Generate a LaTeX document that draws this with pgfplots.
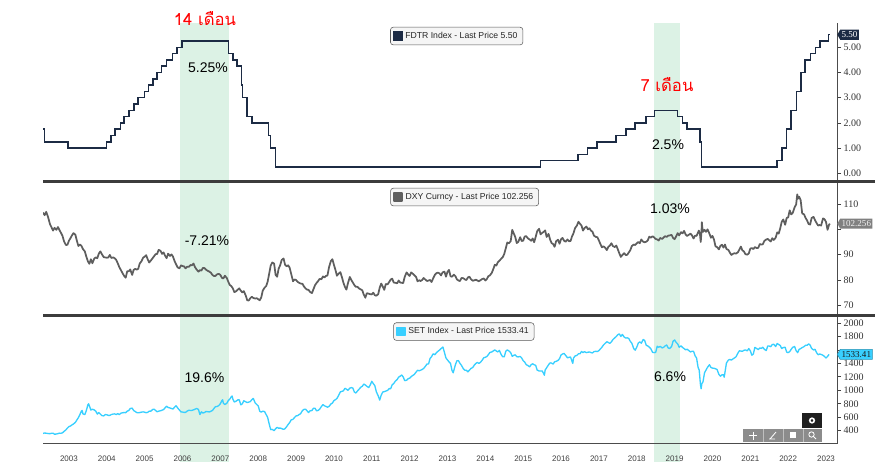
\documentclass[border=0pt]{standalone}
\usepackage{fontspec}
\setmainfont{Liberation Sans}
\newfontfamily\tickfont{Liberation Serif}
\newfontfamily\thaifont[Script=Thai]{Loma}
\usepackage{pgfplots}
\pgfplotsset{compat=1.18}
\usetikzlibrary{shapes.symbols}

\definecolor{fdtr}{HTML}{1C2B44}
\definecolor{dxy}{HTML}{5E5E5E}
\definecolor{setc}{HTML}{38CFFF}
\definecolor{band}{HTML}{DCF2E5}
\definecolor{sep}{HTML}{3C3C3C}

\pgfplotsset{
  panel/.style={
    scale only axis, width=595.5pt,
    xmin=2002.815, xmax=2023.79,
    axis y line*=right,
    tick align=outside, major tick length=3pt,
    axis line style={black!70, line width=0.6pt},
    ytick style={black!75, line width=0.6pt},
    /pgf/number format/assume math mode=true,
    yticklabel style={font=\tickfont\fontsize{7.5}{8}\selectfont, text=black!80, xshift=-1.5pt},
    scaled y ticks=false,
    legend style={anchor=center, draw=black!65, fill=black!4, rounded corners=2pt,
      font=\fontsize{6.5}{7.5}\selectfont, text=black!85, inner xsep=2pt, inner ysep=1.5pt},
  },
}
\tikzset{
  lasttag/.style={signal, signal to=west, signal pointer angle=120,
    font=\tickfont\fontsize{6.8}{7.5}\selectfont, inner xsep=1pt, inner ysep=1.5pt, anchor=west},
}

\begin{document}
\begin{tikzpicture}
\path[use as bounding box] (0pt,0pt) rectangle (656.25pt,-346.5pt);

% shaded hold periods (Jun 2006 - Sep 2007, Dec 2018 - Jul 2019), behind the panels
\begin{scope}[x=0.75pt, y=-0.75pt]
\fill[band] (180,23) rectangle (229,462);
\fill[band] (654.3,23) rectangle (679.7,462);
\end{scope}

% ---------- FDTR ----------
\begin{axis}[panel, at={(32.25pt,-17.25pt)}, anchor=north west,
  height=117.75pt, ymin=-0.266, ymax=5.964,
  hide x axis,
  ytick={0,1,2,3,4,5},
  yticklabel style={/pgf/number format/fixed, /pgf/number format/fixed zerofill, /pgf/number format/precision=2},
  legend style={at={(0.521,0.917)}},
]
\addplot[const plot, fdtr, line width=1.1pt,
  legend image code/.code={\fill[fdtr, sharp corners] (0pt,-3pt) rectangle (6pt,3pt);}]
  coordinates {(2002.815,1.75)(2002.85,1.25)(2003.48,1.00)(2004.49,1.25)(2004.61,1.50)(2004.72,1.75)(2004.86,2.00)(2004.95,2.25)(2005.09,2.50)(2005.22,2.75)(2005.33,3.00)(2005.49,3.25)(2005.60,3.50)(2005.72,3.75)(2005.83,4.00)(2005.95,4.25)(2006.08,4.50)(2006.24,4.75)(2006.36,5.00)(2006.49,5.25)(2007.71,4.75)(2007.83,4.50)(2007.94,4.25)(2008.06,3.50)(2008.08,3.00)(2008.21,2.25)(2008.33,2.00)(2008.77,1.50)(2008.82,1.00)(2008.96,0.25)(2015.96,0.50)(2016.95,0.75)(2017.20,1.00)(2017.45,1.25)(2017.95,1.50)(2018.22,1.75)(2018.45,2.00)(2018.74,2.25)(2018.97,2.50)(2019.58,2.25)(2019.71,2.00)(2019.83,1.75)(2020.17,1.25)(2020.21,0.25)(2022.21,0.50)(2022.34,1.00)(2022.46,1.75)(2022.57,2.50)(2022.72,3.25)(2022.84,4.00)(2022.95,4.50)(2023.09,4.75)(2023.22,5.00)(2023.34,5.25)(2023.57,5.50)(2023.60,5.50)};
\addlegendentry{FDTR Index - Last Price 5.50}
\coordinate (fdtrend) at (2023.79,5.50);
\end{axis}

% ---------- DXY ----------
\begin{axis}[panel, at={(32.25pt,-137.25pt)}, anchor=north west,
  height=98.25pt, ymin=66.57, ymax=118.29,
  hide x axis,
  ytick={70,80,90,100,110},
  yticklabels={70,80,90,,110},
  legend style={at={(0.531,0.893)}},
]
\addplot[dxy, line width=1.3pt, line join=round,
  legend image code/.code={\fill[dxy, sharp corners] (0pt,-3pt) rectangle (6pt,3pt);}]
  coordinates {(2002.815,106.6)(2002.86,105.6)(2002.90,106.9)(2002.95,104.8)(2003.00,102.0)
  (2003.04,100.8)(2003.08,99.5)(2003.12,100.6)(2003.17,99.8)(2003.21,100.9)(2003.25,99.7)(2003.29,98.6)(2003.33,97.4)(2003.37,95.3)(2003.42,93.8)(2003.46,93.9)(2003.50,95.5)(2003.54,96.5)(2003.58,97.6)(2003.62,98.5)(2003.67,97.9)(2003.71,95.5)(2003.75,93.4)(2003.79,94.0)(2003.83,93.5)(2003.87,92.2)(2003.92,91.3)(2003.96,89.2)(2004.00,87.4)
  (2004.04,86.4)(2004.08,88.2)(2004.12,86.6)(2004.17,88.5)(2004.21,88.9)(2004.25,88.6)(2004.29,90.4)(2004.33,91.3)(2004.37,90.2)(2004.42,89.0)(2004.46,88.9)(2004.50,88.8)(2004.54,88.9)(2004.58,89.9)(2004.62,88.7)(2004.67,88.9)(2004.71,88.6)(2004.75,87.9)(2004.79,86.6)(2004.83,85.1)(2004.87,84.0)(2004.92,82.6)(2004.96,81.6)(2005.00,80.9)
  (2005.04,83.5)(2005.08,83.4)(2005.12,84.2)(2005.17,82.0)(2005.21,84.0)(2005.25,84.4)(2005.29,84.1)(2005.33,84.4)(2005.37,86.5)(2005.42,87.5)(2005.46,88.8)(2005.50,89.2)(2005.54,89.8)(2005.58,88.2)(2005.62,86.9)(2005.67,87.8)(2005.71,88.6)(2005.75,89.4)(2005.79,90.2)(2005.83,90.3)(2005.87,91.9)(2005.92,91.5)(2005.96,90.3)(2006.00,90.9)
  (2006.04,89.6)(2006.08,88.6)(2006.12,90.4)(2006.17,89.5)(2006.21,90.1)(2006.25,89.2)(2006.29,87.5)(2006.33,86.2)(2006.37,85.0)(2006.42,84.6)(2006.46,85.8)(2006.50,85.5)(2006.54,85.4)(2006.58,84.6)(2006.62,85.2)(2006.67,85.2)(2006.71,85.9)(2006.75,85.8)(2006.79,86.5)(2006.83,85.1)(2006.87,84.2)(2006.92,83.3)(2006.96,83.9)(2007.00,83.7)
  (2007.04,84.8)(2007.08,84.7)(2007.12,84.1)(2007.17,83.6)(2007.21,83.3)(2007.25,82.9)(2007.29,82.0)(2007.33,81.6)(2007.37,81.6)(2007.42,82.3)(2007.46,82.4)(2007.50,82.0)(2007.54,80.9)(2007.58,80.6)(2007.62,81.7)(2007.67,80.8)(2007.71,79.3)(2007.75,78.0)(2007.79,77.6)(2007.83,76.7)(2007.87,75.2)(2007.92,75.6)(2007.96,76.2)(2008.00,76.7)
  (2008.04,75.8)(2008.08,75.1)(2008.12,75.6)(2008.17,73.9)(2008.21,72.0)(2008.25,71.9)(2008.29,72.8)(2008.33,73.4)(2008.37,72.9)(2008.42,72.7)(2008.46,72.8)(2008.50,72.4)(2008.54,72.0)(2008.58,73.1)(2008.62,75.8)(2008.67,77.0)(2008.71,77.6)(2008.75,79.4)(2008.79,82.5)(2008.83,85.7)(2008.87,86.9)(2008.92,86.5)(2008.96,82.0)(2009.00,81.3)
  (2009.04,84.5)(2009.08,85.8)(2009.12,87.9)(2009.17,88.5)(2009.21,86.0)(2009.25,85.4)(2009.29,85.8)(2009.33,84.9)(2009.37,82.5)(2009.42,79.5)(2009.46,80.2)(2009.50,80.0)(2009.54,79.3)(2009.58,78.9)(2009.62,78.6)(2009.67,78.5)(2009.71,77.4)(2009.75,76.7)(2009.79,76.2)(2009.83,76.1)(2009.87,75.3)(2009.92,74.8)(2009.96,76.4)(2010.00,77.9)
  (2010.04,78.8)(2010.08,79.5)(2010.12,80.4)(2010.17,80.3)(2010.21,81.4)(2010.25,81.0)(2010.29,81.6)(2010.33,81.8)(2010.37,85.0)(2010.42,87.5)(2010.46,88.2)(2010.50,86.0)(2010.54,84.0)(2010.58,81.7)(2010.62,82.4)(2010.67,83.1)(2010.71,81.2)(2010.75,79.0)(2010.79,77.3)(2010.83,76.2)(2010.87,78.7)(2010.92,81.2)(2010.96,80.0)(2011.00,79.0)
  (2011.04,78.0)(2011.08,77.3)(2011.12,77.3)(2011.17,76.6)(2011.21,76.3)(2011.25,75.9)(2011.29,74.2)(2011.33,73.0)(2011.37,74.8)(2011.42,74.6)(2011.46,74.4)(2011.50,74.3)(2011.54,75.0)(2011.58,74.0)(2011.62,73.8)(2011.67,74.4)(2011.71,77.0)(2011.75,78.6)(2011.79,77.4)(2011.83,76.1)(2011.87,78.4)(2011.92,78.3)(2011.96,79.2)(2012.00,80.2)
  (2012.04,80.5)(2012.08,79.0)(2012.12,78.9)(2012.17,78.7)(2012.21,79.8)(2012.25,79.0)(2012.29,78.9)(2012.33,78.8)(2012.37,81.2)(2012.42,83.0)(2012.46,82.2)(2012.50,81.6)(2012.54,83.0)(2012.58,82.5)(2012.62,82.0)(2012.67,81.2)(2012.71,79.5)(2012.75,79.9)(2012.79,79.6)(2012.83,80.0)(2012.87,80.8)(2012.92,80.1)(2012.96,79.6)(2013.00,79.8)
  (2013.04,80.0)(2013.08,79.2)(2013.12,80.6)(2013.17,82.1)(2013.21,82.7)(2013.25,82.9)(2013.29,82.6)(2013.33,81.8)(2013.37,83.0)(2013.42,83.3)(2013.46,81.3)(2013.50,83.2)(2013.54,84.0)(2013.58,81.5)(2013.62,81.3)(2013.67,82.1)(2013.71,81.5)(2013.75,80.2)(2013.79,79.8)(2013.83,79.6)(2013.87,80.8)(2013.92,80.7)(2013.96,80.2)(2014.00,80.0)
  (2014.04,81.0)(2014.08,81.3)(2014.12,80.3)(2014.17,79.7)(2014.21,79.9)(2014.25,80.1)(2014.29,79.8)(2014.33,79.5)(2014.37,79.9)(2014.42,80.4)(2014.46,80.6)(2014.50,79.8)(2014.54,80.4)(2014.58,81.5)(2014.62,81.8)(2014.67,82.8)(2014.71,84.3)(2014.75,86.0)(2014.79,85.7)(2014.83,87.0)(2014.87,87.6)(2014.92,88.4)(2014.96,89.0)(2015.00,90.3)
  (2015.04,92.5)(2015.08,94.8)(2015.12,94.5)(2015.17,95.3)(2015.21,99.8)(2015.25,98.4)(2015.29,97.0)(2015.33,94.6)(2015.37,95.0)(2015.42,96.9)(2015.46,95.4)(2015.50,95.5)(2015.54,97.2)(2015.58,97.3)(2015.62,96.5)(2015.67,96.0)(2015.71,95.5)(2015.75,96.4)(2015.79,94.9)(2015.83,97.0)(2015.87,99.3)(2015.92,100.2)(2015.96,98.0)(2016.00,98.6)
  (2016.04,99.0)(2016.08,99.6)(2016.12,97.0)(2016.17,98.2)(2016.21,96.0)(2016.25,94.6)(2016.29,94.2)(2016.33,93.1)(2016.37,95.3)(2016.42,95.9)(2016.46,94.3)(2016.50,96.1)(2016.54,96.6)(2016.58,95.5)(2016.62,95.1)(2016.67,96.0)(2016.71,95.3)(2016.75,95.4)(2016.79,97.2)(2016.83,98.5)(2016.87,100.5)(2016.92,101.5)(2016.96,103.0)(2017.00,102.2)
  (2017.04,101.5)(2017.08,99.5)(2017.12,100.5)(2017.17,101.1)(2017.21,100.0)(2017.25,100.4)(2017.29,99.5)(2017.33,99.1)(2017.37,97.5)(2017.42,97.0)(2017.46,96.9)(2017.50,95.6)(2017.54,94.2)(2017.58,92.9)(2017.62,93.3)(2017.67,92.7)(2017.71,91.8)(2017.75,93.1)(2017.79,93.6)(2017.83,94.5)(2017.87,93.4)(2017.92,93.0)(2017.96,93.6)(2018.00,92.1)
  (2018.04,90.5)(2018.08,89.1)(2018.12,89.9)(2018.17,90.6)(2018.21,89.8)(2018.25,90.0)(2018.29,90.9)(2018.33,91.8)(2018.37,93.4)(2018.42,94.0)(2018.46,93.8)(2018.50,94.5)(2018.54,95.0)(2018.58,94.5)(2018.62,96.0)(2018.67,95.1)(2018.71,94.9)(2018.75,95.1)(2018.79,95.6)(2018.83,97.1)(2018.87,96.7)(2018.92,97.3)(2018.96,96.8)(2019.00,96.2)
  (2019.04,96.0)(2019.08,95.6)(2019.12,96.6)(2019.17,96.2)(2019.21,96.8)(2019.25,97.3)(2019.29,97.0)(2019.33,97.5)(2019.37,97.6)(2019.42,97.8)(2019.46,96.6)(2019.50,96.1)(2019.54,97.2)(2019.58,98.5)(2019.62,97.6)(2019.67,98.9)(2019.71,98.4)(2019.75,99.4)(2019.79,98.0)(2019.83,97.4)(2019.87,97.8)(2019.92,98.3)(2019.96,97.6)(2020.00,96.4)
  (2020.04,97.5)(2020.08,97.4)(2020.12,98.8)(2020.14,99.5)(2020.17,98.1)(2020.19,95.0)(2020.21,99.0)(2020.22,102.8)(2020.23,101.0)(2020.25,99.0)(2020.29,99.8)(2020.33,99.0)(2020.37,100.0)(2020.42,98.3)(2020.46,96.7)(2020.50,97.4)(2020.54,96.0)(2020.58,93.3)(2020.62,93.0)(2020.67,92.1)(2020.71,93.5)(2020.75,93.9)(2020.79,92.8)(2020.83,94.0)(2020.87,92.2)(2020.92,91.9)(2020.96,90.8)(2021.00,89.9)
  (2021.04,90.3)(2021.08,90.6)(2021.12,90.4)(2021.17,90.9)(2021.21,92.0)(2021.25,93.2)(2021.29,91.7)(2021.33,91.3)(2021.37,90.2)(2021.42,90.0)(2021.46,90.5)(2021.50,92.4)(2021.54,92.6)(2021.58,92.2)(2021.62,93.0)(2021.67,92.6)(2021.71,92.7)(2021.75,94.2)(2021.79,94.0)(2021.83,94.1)(2021.87,95.4)(2021.92,96.0)(2021.96,96.2)(2022.00,95.7)
  (2022.04,95.2)(2022.08,96.5)(2022.12,95.8)(2022.17,96.7)(2022.21,98.8)(2022.25,98.3)(2022.29,100.4)(2022.33,103.0)(2022.37,103.9)(2022.42,101.8)(2022.46,104.5)(2022.50,104.7)(2022.54,107.5)(2022.58,105.9)(2022.62,106.5)(2022.67,108.7)(2022.71,109.8)(2022.74,113.8)(2022.76,112.1)(2022.79,112.9)(2022.83,111.5)(2022.87,106.3)(2022.92,105.9)(2022.96,104.5)(2023.00,103.5)
  (2023.04,102.1)(2023.08,101.9)(2023.12,104.5)(2023.17,104.9)(2023.21,103.6)(2023.25,102.5)(2023.29,101.5)(2023.33,101.7)(2023.37,101.5)(2023.42,104.3)(2023.46,104.0)(2023.50,102.9)(2023.54,99.8)(2023.58,101.8)(2023.60,102.256)};
\addlegendentry{DXY Curncy - Last Price 102.256}
\coordinate (dxyend) at (2023.79,102.256);
\end{axis}

% ---------- SET ----------
\begin{axis}[panel, at={(32.25pt,-237.75pt)}, anchor=north west,
  height=94.875pt, ymin=210, ymax=2089,
  axis x line*=bottom,
  xtick={2003.5,2004.5,2005.5,2006.5,2007.5,2008.5,2009.5,2010.5,2011.5,2012.5,2013.5,2014.5,2015.5,2016.5,2017.5,2018.5,2019.5,2020.5,2021.5,2022.5,2023.5},
  xticklabels={2003,2004,2005,2006,2007,2008,2009,2010,2011,2012,2013,2014,2015,2016,2017,2018,2019,2020,2021,2022,2023},
  xtick style={draw=none},
  minor xtick={2003,2004,2005,2006,2007,2008,2009,2010,2011,2012,2013,2014,2015,2016,2017,2018,2019,2020,2021,2022,2023},
  minor tick length=14.25pt,
  minor x tick style={black!40, line width=0.6pt},
  xticklabel style={font=\fontsize{6}{7}\selectfont, text=black!75, yshift=-3pt},
  ytick={400,600,800,1000,1200,1400,1600,1800,2000},
  yticklabels={400,600,800,1000,1200,1400,,1800,2000},
  legend style={at={(0.530,0.885)}},
]
\addplot[setc, line width=1pt, line join=round,
  legend image code/.code={\fill[setc, sharp corners] (0pt,-3pt) rectangle (6pt,3pt);}]
  coordinates {(2002.815,360)(2002.86,366)(2002.90,363)(2002.95,358)(2003.00,356)
  (2003.04,362)(2003.08,363)(2003.12,348)(2003.17,351)(2003.21,357)(2003.25,364)(2003.29,362)(2003.33,369)(2003.37,390)(2003.42,412)(2003.46,440)(2003.50,461)(2003.54,470)(2003.58,486)(2003.62,500)(2003.67,524)(2003.71,560)(2003.75,595)(2003.79,640)(2003.83,693)(2003.85,700)(2003.87,650)(2003.92,640)(2003.96,700)(2004.00,785)(2004.02,800)
  (2004.04,770)(2004.08,707)(2004.12,720)(2004.17,708)(2004.21,690)(2004.25,647)(2004.29,670)(2004.33,646)(2004.37,625)(2004.42,620)(2004.46,640)(2004.50,637)(2004.54,628)(2004.58,628)(2004.62,640)(2004.67,648)(2004.71,650)(2004.75,640)(2004.79,655)(2004.83,639)(2004.87,660)(2004.92,667)(2004.96,670)(2005.00,668)
  (2005.04,690)(2005.08,700)(2005.12,730)(2005.17,736)(2005.21,700)(2005.25,686)(2005.29,670)(2005.33,666)(2005.37,670)(2005.42,676)(2005.46,680)(2005.50,675)(2005.54,668)(2005.58,673)(2005.62,690)(2005.67,692)(2005.71,715)(2005.75,720)(2005.79,700)(2005.83,682)(2005.87,690)(2005.92,697)(2005.96,705)(2006.00,714)
  (2006.04,740)(2006.08,764)(2006.12,745)(2006.17,738)(2006.21,730)(2006.25,722)(2006.29,750)(2006.33,771)(2006.37,740)(2006.42,706)(2006.46,680)(2006.50,678)(2006.54,672)(2006.58,673)(2006.62,690)(2006.67,705)(2006.71,700)(2006.75,702)(2006.79,710)(2006.83,719)(2006.87,730)(2006.92,718)(2006.96,640)(2007.00,680)
  (2007.04,663)(2007.08,670)(2007.12,686)(2007.17,682)(2007.21,679)(2007.25,690)(2007.29,700)(2007.33,730)(2007.37,757)(2007.42,760)(2007.46,776)(2007.50,800)(2007.54,846)(2007.56,860)(2007.58,807)(2007.62,790)(2007.67,807)(2007.71,849)(2007.75,870)(2007.79,906)(2007.81,915)(2007.83,870)(2007.87,827)(2007.92,840)(2007.96,858)(2008.00,858)
  (2008.04,784)(2008.08,800)(2008.12,845)(2008.17,830)(2008.21,818)(2008.25,825)(2008.29,832)(2008.33,860)(2008.37,880)(2008.42,813)(2008.46,790)(2008.50,769)(2008.54,690)(2008.58,676)(2008.62,690)(2008.67,684)(2008.71,640)(2008.75,596)(2008.79,500)(2008.83,416)(2008.87,420)(2008.92,401)(2008.96,430)(2009.00,450)
  (2009.04,437)(2009.08,440)(2009.12,431)(2009.17,420)(2009.21,431)(2009.25,460)(2009.29,492)(2009.33,520)(2009.37,560)(2009.42,570)(2009.46,597)(2009.50,620)(2009.54,624)(2009.58,640)(2009.62,653)(2009.67,700)(2009.71,717)(2009.75,720)(2009.79,696)(2009.83,670)(2009.87,696)(2009.92,700)(2009.96,735)(2010.00,735)
  (2010.04,696)(2010.08,700)(2010.12,718)(2010.17,760)(2010.21,788)(2010.25,770)(2010.29,761)(2010.33,750)(2010.37,760)(2010.42,797)(2010.46,810)(2010.50,848)(2010.54,860)(2010.58,880)(2010.62,920)(2010.67,977)(2010.71,985)(2010.75,992)(2010.79,1030)(2010.83,1017)(2010.87,1000)(2010.92,1033)(2010.96,1040)(2011.00,1033)
  (2011.04,975)(2011.08,960)(2011.12,989)(2011.17,1020)(2011.21,1047)(2011.25,1060)(2011.29,1093)(2011.33,1079)(2011.37,1060)(2011.42,1041)(2011.46,1080)(2011.50,1134)(2011.54,1100)(2011.58,1070)(2011.62,980)(2011.67,917)(2011.71,855)(2011.75,930)(2011.79,975)(2011.83,980)(2011.87,989)(2011.92,1000)(2011.96,1025)(2012.00,1025)
  (2012.04,1083)(2012.08,1100)(2012.12,1135)(2012.17,1160)(2012.21,1196)(2012.25,1210)(2012.29,1228)(2012.33,1200)(2012.37,1144)(2012.42,1150)(2012.46,1172)(2012.50,1180)(2012.54,1203)(2012.58,1220)(2012.62,1234)(2012.67,1270)(2012.71,1298)(2012.75,1290)(2012.79,1299)(2012.83,1310)(2012.87,1324)(2012.92,1360)(2012.96,1392)(2013.00,1392)
  (2013.04,1474)(2013.08,1500)(2013.12,1542)(2013.17,1530)(2013.21,1561)(2013.25,1580)(2013.29,1598)(2013.33,1620)(2013.38,1643)(2013.42,1562)(2013.46,1480)(2013.50,1451)(2013.54,1423)(2013.58,1400)(2013.62,1294)(2013.65,1260)(2013.67,1300)(2013.71,1383)(2013.75,1440)(2013.79,1441)(2013.83,1400)(2013.87,1371)(2013.92,1320)(2013.96,1299)(2014.00,1299)
  (2014.04,1274)(2014.08,1300)(2014.12,1325)(2014.17,1340)(2014.21,1376)(2014.25,1400)(2014.29,1414)(2014.33,1400)(2014.37,1415)(2014.42,1450)(2014.46,1485)(2014.50,1490)(2014.54,1502)(2014.58,1530)(2014.62,1562)(2014.67,1570)(2014.71,1585)(2014.75,1600)(2014.79,1584)(2014.83,1570)(2014.87,1593)(2014.92,1530)(2014.96,1498)(2015.00,1498)
  (2015.04,1581)(2015.08,1600)(2015.12,1587)(2015.17,1560)(2015.21,1505)(2015.25,1520)(2015.29,1527)(2015.33,1500)(2015.37,1496)(2015.42,1504)(2015.46,1480)(2015.50,1440)(2015.54,1420)(2015.58,1382)(2015.62,1370)(2015.67,1349)(2015.71,1380)(2015.75,1394)(2015.79,1380)(2015.83,1371)(2015.87,1300)(2015.92,1288)(2015.96,1288)(2016.00,1288)
  (2016.04,1250)(2016.06,1224)(2016.08,1301)(2016.12,1336)(2016.17,1380)(2016.21,1408)(2016.25,1404)(2016.29,1390)(2016.33,1424)(2016.37,1430)(2016.42,1444)(2016.46,1470)(2016.50,1525)(2016.54,1540)(2016.58,1548)(2016.62,1520)(2016.67,1483)(2016.71,1490)(2016.75,1496)(2016.79,1430)(2016.81,1400)(2016.83,1480)(2016.87,1510)(2016.92,1520)(2016.96,1543)(2017.00,1543)
  (2017.04,1577)(2017.08,1560)(2017.12,1575)(2017.17,1560)(2017.21,1566)(2017.25,1570)(2017.29,1561)(2017.33,1555)(2017.37,1575)(2017.42,1580)(2017.46,1576)(2017.50,1590)(2017.54,1616)(2017.58,1640)(2017.62,1673)(2017.67,1700)(2017.71,1721)(2017.75,1710)(2017.79,1697)(2017.83,1720)(2017.87,1754)(2017.92,1780)(2017.96,1800)(2018.00,1826)
  (2018.04,1838)(2018.08,1800)(2018.12,1830)(2018.17,1790)(2018.21,1776)(2018.25,1780)(2018.29,1770)(2018.33,1727)(2018.37,1700)(2018.42,1620)(2018.46,1596)(2018.50,1640)(2018.54,1701)(2018.58,1721)(2018.62,1700)(2018.67,1756)(2018.71,1740)(2018.75,1669)(2018.79,1660)(2018.83,1642)(2018.87,1620)(2018.92,1564)(2018.96,1560)(2019.00,1564)
  (2019.04,1654)(2019.08,1640)(2019.12,1653)(2019.17,1630)(2019.21,1639)(2019.25,1660)(2019.29,1673)(2019.33,1630)(2019.37,1621)(2019.42,1650)(2019.46,1730)(2019.50,1748)(2019.54,1712)(2019.58,1690)(2019.62,1640)(2019.67,1660)(2019.71,1637)(2019.75,1620)(2019.79,1601)(2019.83,1610)(2019.87,1593)(2019.92,1570)(2019.96,1580)(2020.00,1580)
  (2020.04,1515)(2020.08,1480)(2020.12,1341)(2020.15,1300)(2020.18,1100)(2020.20,1024)(2020.22,1100)(2020.25,1126)(2020.29,1260)(2020.33,1302)(2020.37,1343)(2020.42,1380)(2020.46,1339)(2020.50,1330)(2020.54,1328)(2020.58,1320)(2020.62,1311)(2020.67,1237)(2020.71,1210)(2020.75,1230)(2020.79,1230)(2020.81,1195)(2020.87,1408)(2020.92,1449)(2020.96,1460)(2021.00,1449)
  (2021.04,1466)(2021.08,1480)(2021.12,1497)(2021.17,1550)(2021.21,1587)(2021.25,1583)(2021.29,1580)(2021.33,1594)(2021.37,1600)(2021.42,1587)(2021.46,1620)(2021.50,1587)(2021.54,1522)(2021.58,1540)(2021.62,1638)(2021.67,1620)(2021.71,1605)(2021.75,1630)(2021.79,1623)(2021.83,1640)(2021.87,1610)(2021.92,1590)(2021.96,1658)(2022.00,1658)
  (2022.04,1648)(2022.08,1680)(2022.12,1685)(2022.17,1650)(2022.21,1696)(2022.25,1680)(2022.29,1667)(2022.33,1620)(2022.37,1636)(2022.42,1640)(2022.46,1568)(2022.50,1560)(2022.54,1576)(2022.58,1610)(2022.62,1639)(2022.67,1650)(2022.71,1589)(2022.75,1560)(2022.79,1609)(2022.83,1620)(2022.87,1635)(2022.92,1650)(2022.96,1669)(2023.00,1669)
  (2023.04,1690)(2023.08,1671)(2023.12,1622)(2023.17,1600)(2023.21,1609)(2023.25,1560)(2023.29,1529)(2023.33,1540)(2023.37,1533)(2023.42,1520)(2023.46,1503)(2023.50,1480)(2023.54,1503)(2023.58,1533.41)};
\addlegendentry{SET Index - Last Price 1533.41}
\coordinate (setend) at (2023.79,1533.41);
\end{axis}

% last-price tags on the right axis
\node[lasttag, fill=fdtr, text=white] at (fdtrend) {5.50};
\node[lasttag, fill=black!50, text=black!5] at (dxyend) {102.256};
\node[lasttag, fill=setc, draw=setc!70!black, line width=0.4pt, text=black!90] at (setend) {1533.41};

\begin{scope}[x=0.75pt, y=-0.75pt]
% panel separators
\draw[sep, line width=2.25pt] (43,181.5) -- (875,181.5);
\draw[sep, line width=2.25pt] (43,315.5) -- (875,315.5);
% annotations
\node[text=red, font=\thaifont\fontsize{12.5}{14}\selectfont] at (205,19) {14 เดือน};
\node[text=red, font=\thaifont\fontsize{12.5}{14}\selectfont] at (667,85) {7 เดือน};
\node[font=\fontsize{10.5}{12}\selectfont] at (208,68) {5.25\%};
\node[font=\fontsize{10.5}{12}\selectfont] at (668,145) {2.5\%};
\node[font=\fontsize{10.5}{12}\selectfont] at (207,241) {-7.21\%};
\node[font=\fontsize{10.5}{12}\selectfont] at (670,209) {1.03\%};
\node[font=\fontsize{10.5}{12}\selectfont] at (204.5,378) {19.6\%};
\node[font=\fontsize{10.5}{12}\selectfont] at (670,377) {6.6\%};
% chart toolbar
\fill[black!45] (743,429) rectangle (822,442);
\draw[black!25, line width=0.5pt] (763,429) -- (763,442) (783,429) -- (783,442) (803,429) -- (803,442);
\draw[white, line width=0.6pt] (749,435.5) -- (757,435.5) (753,431.5) -- (753,439.5);
\draw[white, line width=0.6pt] (770,439) -- (776,432) (769,439) -- (775,439);
\fill[white] (790,432) rectangle (796,438);
\draw[white, line width=0.6pt] (811.5,434.5) circle (2pt) (813.5,436.5) -- (816,439);
\fill[black!88] (802,413) rectangle (822,428);
\draw[white, line width=1.2pt] (812,420.5) circle (1.7pt);
\end{scope}
\end{tikzpicture}
\end{document}
